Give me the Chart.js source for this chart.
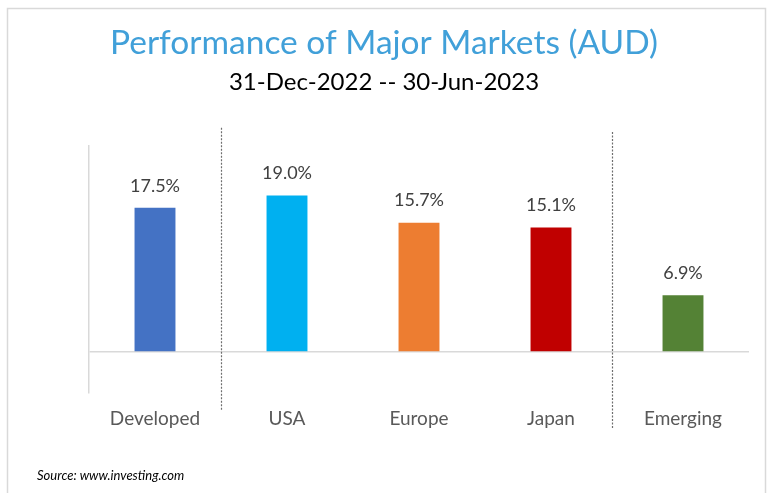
<!DOCTYPE html>
<html>
<head>
<meta charset="utf-8">
<script src="https://cdn.jsdelivr.net/npm/chart.js@4.4.0/dist/chart.umd.min.js"></script>
<style>
  html, body { margin: 0; padding: 0; background: #ffffff; }
  #wrap { width: 768px; height: 493px; position: relative; }
</style>
</head>
<body>
<div id="wrap"><canvas id="c" width="768" height="493"></canvas></div>
<script>
// ---- data ----
const categories = ["Developed", "USA", "Europe", "Japan", "Emerging"];
const returnsPct = [17.5, 19.0, 15.7, 15.1, 6.9];
const barColors = ["#4472C4", "#00B0F0", "#ED7D31", "#C00000", "#548235"];
const titleText = "Performance of Major Markets (AUD)";
const subtitleText = "31-Dec-2022 -- 30-Jun-2023";
const sourceText = "Source: www.investing.com";

const FONT = "Lato, 'Open Sans', 'DejaVu Sans', sans-serif";

// dotted group dividers (between categories, in category-index units)
const dividers = [
  { at: 0.5, from: 27.2, to: -7.0 },
  { at: 3.46, from: 26.7, to: -9.3 }
];

const framePlugin = {
  id: 'frame',
  beforeDraw(chart) {
    const ctx = chart.ctx;
    ctx.save();
    ctx.fillStyle = '#ffffff';
    ctx.fillRect(0, 0, chart.width, chart.height);
    ctx.strokeStyle = '#d9d9d9';
    ctx.lineWidth = 1.5;
    ctx.beginPath();
    ctx.moveTo(7.5, chart.height + 5);
    ctx.lineTo(7.5, 8.5);
    ctx.lineTo(765.5, 8.5);
    ctx.lineTo(765.5, chart.height + 5);
    ctx.stroke();
    ctx.restore();
  },
  afterDraw(chart) {
    const ctx = chart.ctx;
    ctx.save();
    ctx.fillStyle = '#000000';
    ctx.font = "italic 13px " + FONT;
    ctx.textBaseline = 'middle';
    ctx.textAlign = 'left';
    ctx.fillText(sourceText, 37, 476);
    ctx.restore();
  }
};

const dividerPlugin = {
  id: 'dividers',
  beforeDatasetsDraw(chart) {
    const ctx = chart.ctx, xs = chart.scales.x, ys = chart.scales.y;
    ctx.save();
    ctx.strokeStyle = '#6e6e6e';
    ctx.lineWidth = 1.2;
    ctx.setLineDash([2, 1.5]);
    dividers.forEach(d => {
      const x = Math.round(xs.getPixelForValue(d.at)) + 0.5;
      ctx.beginPath();
      ctx.moveTo(x, ys.getPixelForValue(d.from));
      ctx.lineTo(x, ys.getPixelForValue(d.to));
      ctx.stroke();
    });
    ctx.restore();
  }
};

const valueLabelPlugin = {
  id: 'valueLabels',
  afterDatasetsDraw(chart) {
    const ctx = chart.ctx;
    const meta = chart.getDatasetMeta(0);
    ctx.save();
    ctx.fillStyle = '#404040';
    ctx.font = "18px " + FONT;
    ctx.textAlign = 'center';
    ctx.textBaseline = 'middle';
    meta.data.forEach((bar, i) => {
      ctx.fillText(returnsPct[i].toFixed(1) + '%', bar.x, bar.y - 22);
    });
    ctx.restore();
  }
};

new Chart(document.getElementById('c'), {
  type: 'bar',
  data: {
    labels: categories,
    datasets: [{
      data: returnsPct,
      backgroundColor: barColors,
      borderWidth: 0,
      barPercentage: 0.31,
      categoryPercentage: 1.0
    }]
  },
  options: {
    responsive: false,
    animation: false,
    devicePixelRatio: 1,
    layout: { padding: { left: 19, right: 19, top: 0, bottom: 48 } },
    plugins: {
      legend: { display: false },
      tooltip: { enabled: false },
      title: {
        display: true,
        text: titleText,
        color: '#41A0D9',
        font: { family: FONT, size: 33.5, weight: 'normal' },
        padding: { top: 23, bottom: 3 }
      },
      subtitle: {
        display: true,
        text: subtitleText,
        color: '#000000',
        font: { family: FONT, size: 24, weight: 'normal' },
        padding: { top: 2, bottom: 49 }
      }
    },
    scales: {
      x: {
        grid: { display: false, drawTicks: false },
        border: { display: false },
        ticks: {
          color: '#595959',
          font: { family: FONT, size: 19 },
          padding: 14.5
        }
      },
      y: {
        min: -5,
        max: 25,
        afterFit(scale) { scale.width = 70; },
        ticks: { display: false, stepSize: 5 },
        grid: {
          drawTicks: false,
          color: (c) => (c.tick && c.tick.value === 0) ? '#d9d9d9' : 'rgba(0,0,0,0)',
          lineWidth: 1.5
        },
        border: { display: true, color: '#d9d9d9', width: 1.5 }
      }
    }
  },
  plugins: [framePlugin, dividerPlugin, valueLabelPlugin]
});
</script>
</body>
</html>
